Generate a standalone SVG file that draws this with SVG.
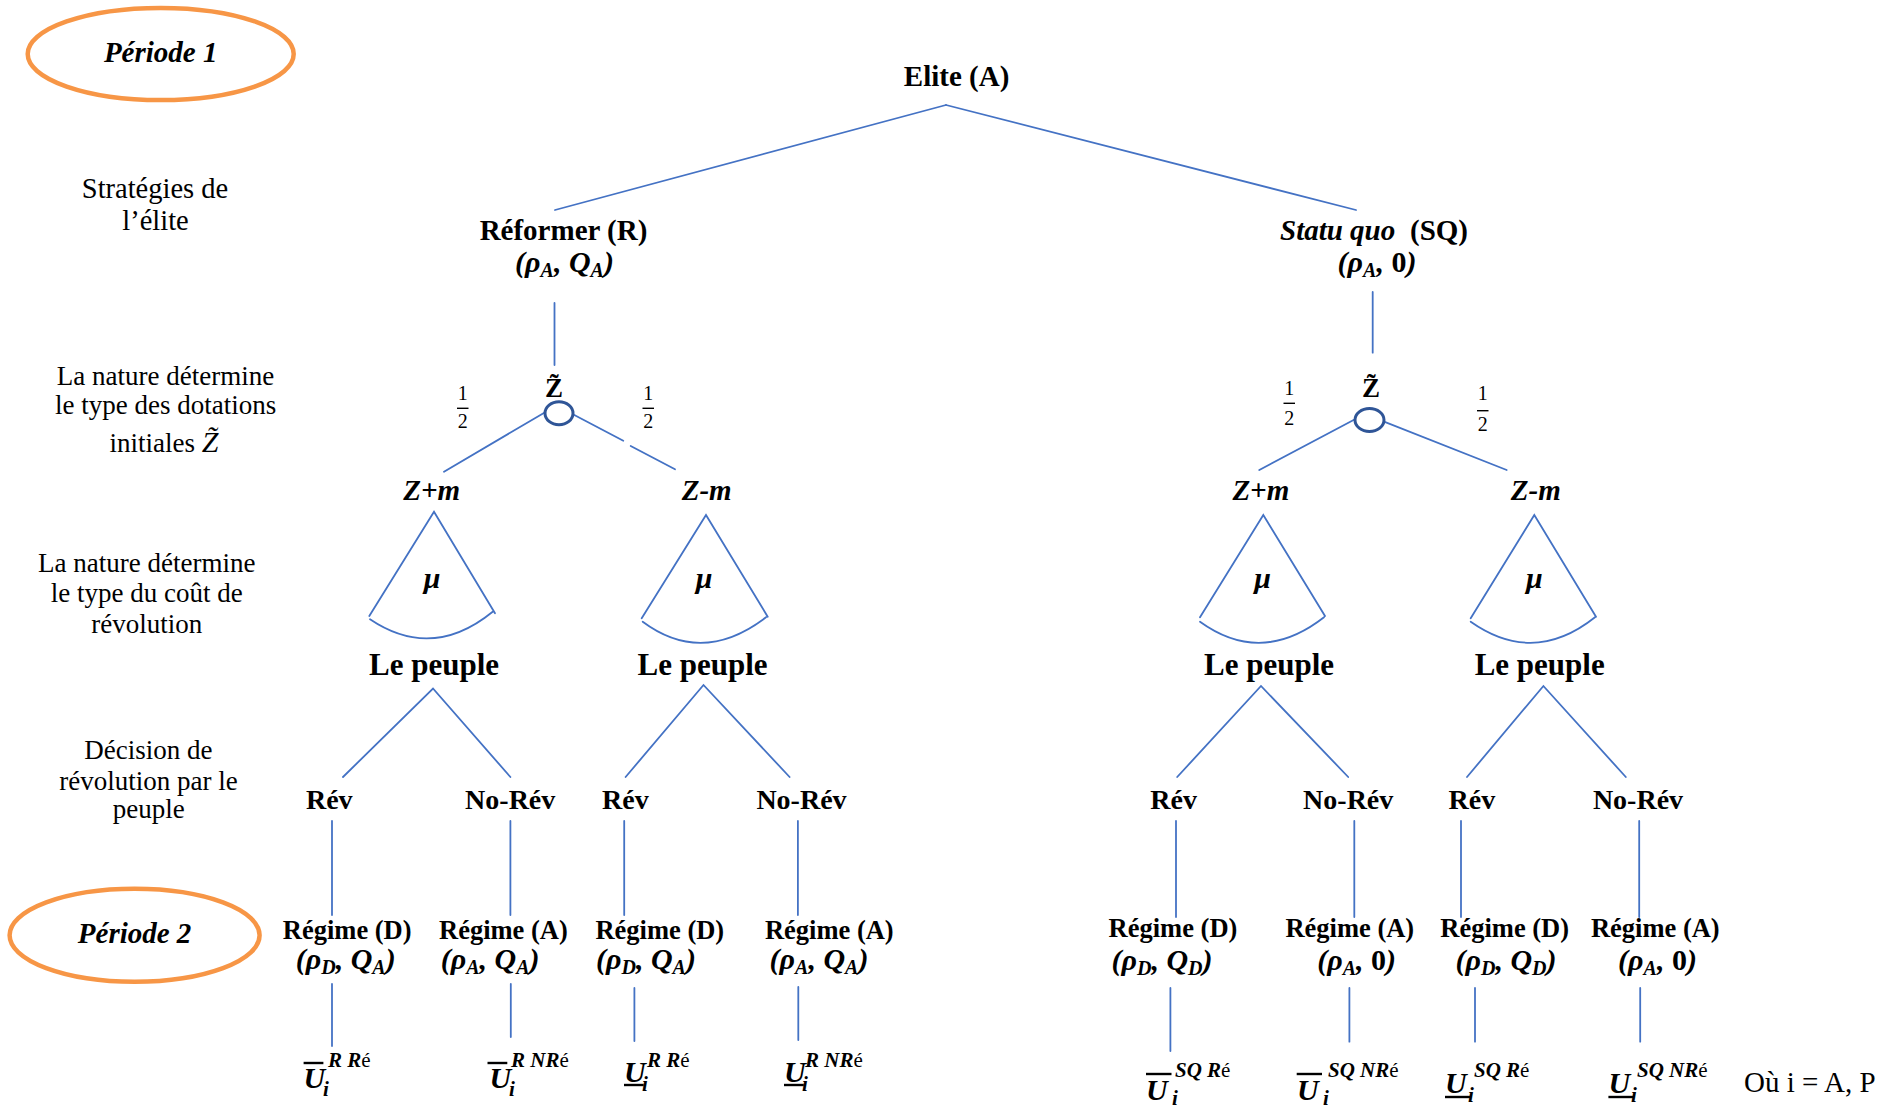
<svg xmlns="http://www.w3.org/2000/svg" width="1901" height="1108" viewBox="0 0 1901 1108">
<style>
.ln{stroke:#4472C4;stroke-width:1.8;fill:none;stroke-linecap:round}
.chance{stroke:#2F5597;stroke-width:3;fill:#fff}
.per{stroke:#F79646;stroke-width:4.5;fill:none}
text{font-family:"Liberation Serif","Times New Roman",serif;fill:#000}
.b{font-weight:bold}
.bi{font-weight:bold;font-style:italic}
.c{text-anchor:middle}
.side{font-size:27px;text-anchor:middle}
.big{font-size:29px}
.math{font-size:30px;font-weight:bold;font-style:italic}
.sub{font-size:20px}
.up{font-style:normal}
.frac{font-size:20px;text-anchor:middle}
.fbar{stroke:#000;stroke-width:1.4}
.U{font-size:30px;font-weight:bold;font-style:italic}
.ui{font-size:21px;font-weight:bold;font-style:italic}
.sup{font-size:21px;font-weight:bold;font-style:italic}
.e{font-weight:normal;font-style:normal}
.ubar{stroke:#000;stroke-width:2.4}
</style>

<g id="connectors">
  <line class="ln" x1="946" y1="105" x2="555" y2="210"/>
  <line class="ln" x1="946" y1="105" x2="1356" y2="210"/>
  <line class="ln" x1="554.5" y1="303" x2="554.5" y2="365"/>
  <line class="ln" x1="1372.7" y1="292" x2="1372.7" y2="352.7"/>
  <line class="ln" x1="546" y1="411.7" x2="444" y2="471.7"/>
  <line class="ln" x1="574.3" y1="415" x2="623.3" y2="440.7"/>
  <line class="ln" x1="630.7" y1="446" x2="675" y2="469.3"/>
  <line class="ln" x1="1355" y1="419.3" x2="1259.3" y2="470"/>
  <line class="ln" x1="1384" y1="421.7" x2="1506.7" y2="470"/>
  <path class="ln" d="M369.3 616 L434 511.7 L495 613.3 M370 619.3 Q432 661 492.7 611.7"/>
  <path class="ln" d="M641.7 618.3 L706 515 L767.7 616.7 M642.7 621.7 Q702.3 666 766 617.3"/>
  <path class="ln" d="M1200 617.3 L1263.3 515 L1325 616 M1200 621.7 Q1261.4 666 1324 617.3"/>
  <path class="ln" d="M1470.7 618.3 L1534.3 515 L1596 616.7 M1470.7 621.7 Q1533.8 666 1595 617.3"/>
  <path class="ln" d="M343 777 L433 688.5 L510.4 777"/>
  <path class="ln" d="M625.6 777 L703.5 685 L789.6 777"/>
  <path class="ln" d="M1177.2 777 L1261 686 L1348.2 777"/>
  <path class="ln" d="M1467 777 L1543.4 686 L1625.8 777"/>
  <line class="ln" x1="332" y1="821" x2="332" y2="915"/>
  <line class="ln" x1="510.4" y1="821" x2="510.4" y2="915"/>
  <line class="ln" x1="624.2" y1="821" x2="624.2" y2="915"/>
  <line class="ln" x1="797.9" y1="821" x2="797.9" y2="915"/>
  <line class="ln" x1="1176" y1="821" x2="1176" y2="917"/>
  <line class="ln" x1="1354.3" y1="821" x2="1354.3" y2="917"/>
  <line class="ln" x1="1461" y1="821" x2="1461" y2="917"/>
  <line class="ln" x1="1639.2" y1="821" x2="1639.2" y2="917"/>
  <line class="ln" x1="332" y1="984" x2="332" y2="1046"/>
  <line class="ln" x1="510.8" y1="984" x2="510.8" y2="1037"/>
  <line class="ln" x1="634.4" y1="988" x2="634.4" y2="1041"/>
  <line class="ln" x1="798.3" y1="987" x2="798.3" y2="1040"/>
  <line class="ln" x1="1170.4" y1="988" x2="1170.4" y2="1051"/>
  <line class="ln" x1="1349.4" y1="988" x2="1349.4" y2="1041.7"/>
  <line class="ln" x1="1475" y1="988" x2="1475" y2="1041.7"/>
  <line class="ln" x1="1640.2" y1="988" x2="1640.2" y2="1041.7"/>
</g>

<g id="periode1">
  <ellipse class="per" cx="160.7" cy="54" rx="133" ry="46"/>
  <text class="bi c big" x="160.7" y="62">Période 1</text>
</g>
<g id="periode2">
  <ellipse class="per" cx="134.6" cy="935.3" rx="125" ry="46.5"/>
  <text class="bi c big" x="134.6" y="943">Période 2</text>
</g>

<g id="desc-strategies">
  <text class="side" style="font-size:28.5px" x="155" y="198">Stratégies de</text>
  <text class="side" style="font-size:28.5px" x="155.5" y="230">l’élite</text>
</g>
<g id="desc-dotations">
  <text class="side" x="165.5" y="385">La nature détermine</text>
  <text class="side" x="165.7" y="413.5">le type des dotations</text>
  <text class="side" x="164" y="451.5">initiales <tspan style="font-style:italic;font-size:30px">Z̃</tspan></text>
</g>
<g id="desc-cout">
  <text class="side" x="146.7" y="571.5">La nature détermine</text>
  <text class="side" x="146.7" y="601.5">le type du coût de</text>
  <text class="side" x="146.7" y="632.5">révolution</text>
</g>
<g id="desc-decision">
  <text class="side" x="148.4" y="758.5">Décision de</text>
  <text class="side" x="148.4" y="790">révolution par le</text>
  <text class="side" x="148.8" y="818">peuple</text>
</g>

<g id="elite">
  <text class="b c big" x="956.6" y="86">Elite (A)</text>
</g>

<g id="reformer">
  <text class="b c big" x="563.5" y="240">Réformer (R)</text>
  <text class="math c" x="564.5" y="272">(ρ<tspan class="sub" dy="5">A</tspan><tspan dy="-5">, Q</tspan><tspan class="sub" dy="5">A</tspan><tspan dy="-5">)</tspan></text>
</g>
<g id="statuquo">
  <text class="bi big" x="1280" y="240">Statu quo</text>
  <text class="b big" x="1410" y="240">(SQ)</text>
  <text class="math c" x="1377" y="272">(ρ<tspan class="sub" dy="5">A</tspan><tspan dy="-5">, <tspan class="up">0</tspan>)</tspan></text>
</g>

<g id="nature-R">
  <text class="b c" style="font-size:27px" x="554" y="397">Z̃</text>
  <ellipse class="chance" cx="559" cy="413.3" rx="14" ry="11.5"/>
  <text class="frac" x="462.7" y="400">1</text>
  <line class="fbar" x1="457" y1="408.3" x2="468.5" y2="408.3"/>
  <text class="frac" x="462.7" y="428">2</text>
  <text class="frac" x="648.3" y="400">1</text>
  <line class="fbar" x1="642.5" y1="408.3" x2="654" y2="408.3"/>
  <text class="frac" x="648.3" y="428">2</text>
</g>
<g id="nature-SQ">
  <text class="b c" style="font-size:27px" x="1371" y="397">Z̃</text>
  <ellipse class="chance" cx="1369.5" cy="420" rx="14.5" ry="11.5"/>
  <text class="frac" x="1289.3" y="395">1</text>
  <line class="fbar" x1="1283.5" y1="403.3" x2="1295" y2="403.3"/>
  <text class="frac" x="1289.3" y="425">2</text>
  <text class="frac" x="1482.7" y="400">1</text>
  <line class="fbar" x1="1477" y1="410.7" x2="1488.5" y2="410.7"/>
  <text class="frac" x="1482.7" y="430.5">2</text>
</g>

<g id="R-zpm"><text class="bi c big" x="431.7" y="500">Z+m</text><text class="bi c" style="font-size:30px" x="432" y="588">μ</text></g>
<g id="R-zmm"><text class="bi c big" x="706.7" y="500">Z-m</text><text class="bi c" style="font-size:30px" x="704" y="588">μ</text></g>
<g id="SQ-zpm"><text class="bi c big" x="1260.8" y="500">Z+m</text><text class="bi c" style="font-size:30px" x="1262.7" y="588">μ</text></g>
<g id="SQ-zmm"><text class="bi c big" x="1535.8" y="500">Z-m</text><text class="bi c" style="font-size:30px" x="1534.3" y="588">μ</text></g>

<g id="peuple-1"><text class="b c" style="font-size:31px" x="434" y="675">Le peuple</text></g>
<g id="peuple-2"><text class="b c" style="font-size:31px" x="702.5" y="675">Le peuple</text></g>
<g id="peuple-3"><text class="b c" style="font-size:31px" x="1269" y="675">Le peuple</text></g>
<g id="peuple-4"><text class="b c" style="font-size:31px" x="1539.7" y="675">Le peuple</text></g>

<g id="rev-1"><text class="b c" style="font-size:28px" x="329.3" y="808.5">Rév</text></g>
<g id="norev-1"><text class="b c" style="font-size:28px" x="510.2" y="808.5">No-Rév</text></g>
<g id="rev-2"><text class="b c" style="font-size:28px" x="625.4" y="808.5">Rév</text></g>
<g id="norev-2"><text class="b c" style="font-size:28px" x="801.5" y="808.5">No-Rév</text></g>
<g id="rev-3"><text class="b c" style="font-size:28px" x="1173.6" y="808.5">Rév</text></g>
<g id="norev-3"><text class="b c" style="font-size:28px" x="1348.2" y="808.5">No-Rév</text></g>
<g id="rev-4"><text class="b c" style="font-size:28px" x="1471.9" y="808.5">Rév</text></g>
<g id="norev-4"><text class="b c" style="font-size:28px" x="1638" y="808.5">No-Rév</text></g>

<g id="regime-1">
  <text class="b c" style="font-size:26.5px" x="347.2" y="939">Régime (D)</text>
  <text class="math c" x="345.7" y="969">(ρ<tspan class="sub" dy="5">D</tspan><tspan dy="-5">, Q</tspan><tspan class="sub" dy="5">A</tspan><tspan dy="-5">)</tspan></text>
</g>
<g id="regime-2">
  <text class="b c" style="font-size:26.5px" x="503.4" y="939">Régime (A)</text>
  <text class="math c" x="490.2" y="969">(ρ<tspan class="sub" dy="5">A</tspan><tspan dy="-5">, Q</tspan><tspan class="sub" dy="5">A</tspan><tspan dy="-5">)</tspan></text>
</g>
<g id="regime-3">
  <text class="b c" style="font-size:26.5px" x="659.8" y="939">Régime (D)</text>
  <text class="math c" x="646" y="969">(ρ<tspan class="sub" dy="5">D</tspan><tspan dy="-5">, Q</tspan><tspan class="sub" dy="5">A</tspan><tspan dy="-5">)</tspan></text>
</g>
<g id="regime-4">
  <text class="b c" style="font-size:26.5px" x="829.3" y="939">Régime (A)</text>
  <text class="math c" x="819" y="969">(ρ<tspan class="sub" dy="5">A</tspan><tspan dy="-5">, Q</tspan><tspan class="sub" dy="5">A</tspan><tspan dy="-5">)</tspan></text>
</g>
<g id="regime-5">
  <text class="b c" style="font-size:26.5px" x="1173" y="937">Régime (D)</text>
  <text class="math c" x="1162" y="970">(ρ<tspan class="sub" dy="5">D</tspan><tspan dy="-5">, Q</tspan><tspan class="sub" dy="5">D</tspan><tspan dy="-5">)</tspan></text>
</g>
<g id="regime-6">
  <text class="b c" style="font-size:26.5px" x="1349.8" y="937">Régime (A)</text>
  <text class="math c" x="1356.7" y="970">(ρ<tspan class="sub" dy="5">A</tspan><tspan dy="-5">, <tspan class="up">0</tspan>)</tspan></text>
</g>
<g id="regime-7">
  <text class="b c" style="font-size:26.5px" x="1504.7" y="937">Régime (D)</text>
  <text class="math c" x="1506" y="970">(ρ<tspan class="sub" dy="5">D</tspan><tspan dy="-5">, Q</tspan><tspan class="sub" dy="5">D</tspan><tspan dy="-5">)</tspan></text>
</g>
<g id="regime-8">
  <text class="b c" style="font-size:26.5px" x="1655.3" y="937">Régime (A)</text>
  <text class="math c" x="1657.5" y="970">(ρ<tspan class="sub" dy="5">A</tspan><tspan dy="-5">, <tspan class="up">0</tspan>)</tspan></text>
</g>

<g id="payoff-1">
  <text class="U" x="303.6" y="1088">U</text>
  <text class="ui" x="323" y="1096">i</text>
  <text class="sup" x="328" y="1066.5">R R<tspan class="e">é</tspan></text>
  <line class="ubar" x1="303.6" y1="1063" x2="323.4" y2="1063"/>
</g>
<g id="payoff-2">
  <text class="U" x="489.5" y="1088">U</text>
  <text class="ui" x="509" y="1096">i</text>
  <text class="sup" x="511" y="1066.5">R NR<tspan class="e">é</tspan></text>
  <line class="ubar" x1="487.5" y1="1063" x2="507.3" y2="1063"/>
</g>
<g id="payoff-3">
  <text class="U" x="624" y="1082">U</text>
  <text class="ui" x="642" y="1091">i</text>
  <text class="sup" x="647" y="1067">R R<tspan class="e">é</tspan></text>
  <line class="ubar" x1="624" y1="1085" x2="643.7" y2="1085"/>
</g>
<g id="payoff-4">
  <text class="U" x="784" y="1082">U</text>
  <text class="ui" x="802" y="1091">i</text>
  <text class="sup" x="805" y="1067">R NR<tspan class="e">é</tspan></text>
  <line class="ubar" x1="784" y1="1085" x2="803.8" y2="1085"/>
</g>
<g id="payoff-5">
  <text class="U" x="1146" y="1100">U</text>
  <text class="ui" x="1172" y="1105">i</text>
  <text class="sup" x="1175" y="1077">SQ R<tspan class="e">é</tspan></text>
  <line class="ubar" x1="1146" y1="1074" x2="1171.5" y2="1074"/>
</g>
<g id="payoff-6">
  <text class="U" x="1297" y="1100">U</text>
  <text class="ui" x="1323" y="1105">i</text>
  <text class="sup" x="1328" y="1077">SQ NR<tspan class="e">é</tspan></text>
  <line class="ubar" x1="1296.7" y1="1074" x2="1322" y2="1074"/>
</g>
<g id="payoff-7">
  <text class="U" x="1445" y="1093">U</text>
  <text class="ui" x="1468" y="1102">i</text>
  <text class="sup" x="1474" y="1077">SQ R<tspan class="e">é</tspan></text>
  <line class="ubar" x1="1445" y1="1097" x2="1470.5" y2="1097"/>
</g>
<g id="payoff-8">
  <text class="U" x="1608.4" y="1093">U</text>
  <text class="ui" x="1631" y="1102">i</text>
  <text class="sup" x="1637" y="1077">SQ NR<tspan class="e">é</tspan></text>
  <line class="ubar" x1="1608.4" y1="1097" x2="1634" y2="1097"/>
</g>

<g id="note">
  <text style="font-size:29px" x="1744" y="1092">Où i = A, P</text>
</g>
</svg>
